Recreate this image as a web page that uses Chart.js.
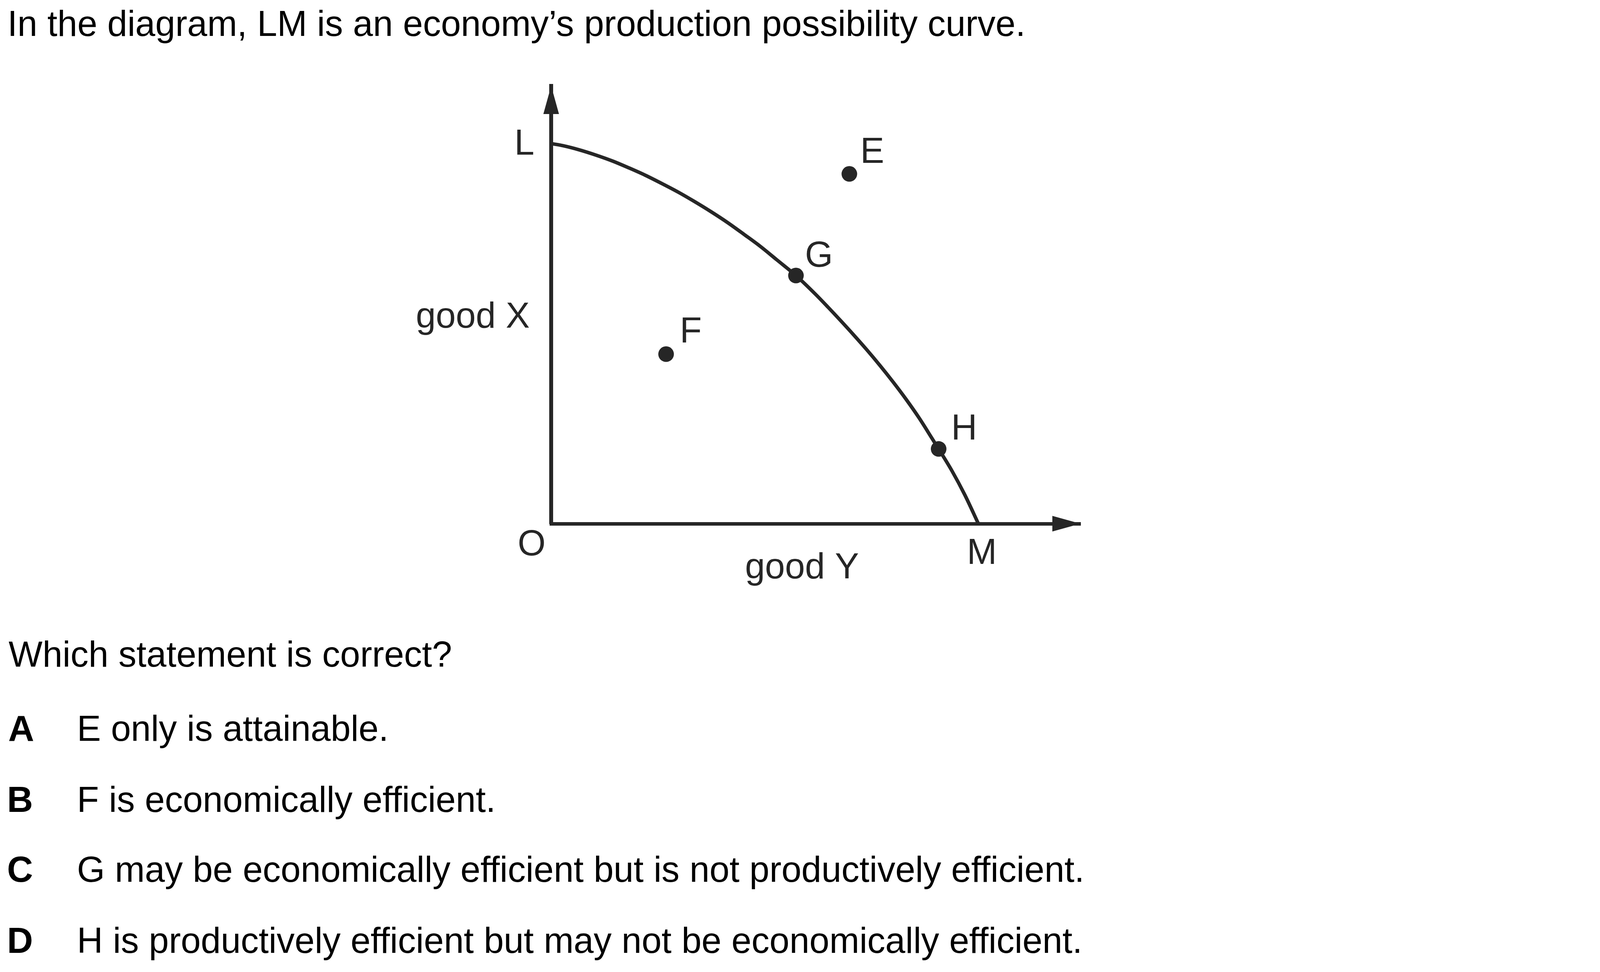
<!DOCTYPE html>
<html>
<head>
<meta charset="utf-8">
<script src="https://cdn.jsdelivr.net/npm/chart.js@4.4.1/dist/chart.umd.min.js"></script>
<style>
    html, body { margin: 0; padding: 0; background: #fff; }
    body { width: 4201px; height: 2489px; position: relative; overflow: hidden; font-family: "Liberation Sans", Arial, sans-serif; color: #000; }
    #canvas-ppc { position: absolute; left: 0; top: 0; }
    .texto { position: absolute; font-size: 92px; line-height: 92px; white-space: nowrap; }
    .letra { position: absolute; font-size: 92px; line-height: 92px; font-weight: bold; }
</style>
</head>
<body>
<canvas id="canvas-ppc" width="4201" height="2489"></canvas>

<div class="texto" style="left:19px; top:14px;">In the diagram, LM is an economy’s production possibility curve.</div>
<div class="texto" style="left:22px; top:1629px;">Which statement is correct?</div>

<div class="letra" style="left:21px; top:1819px;">A</div>
<div class="texto" style="left:197px; top:1819px;">E only is attainable.</div>
<div class="letra" style="left:18px; top:2001px;">B</div>
<div class="texto" style="left:197px; top:2001px;">F is economically efficient.</div>
<div class="letra" style="left:18px; top:2180px;">C</div>
<div class="texto" style="left:197px; top:2180px;">G may be economically efficient but is not productively efficient.</div>
<div class="letra" style="left:18px; top:2362px;">D</div>
<div class="texto" style="left:197px; top:2362px;">H is productively efficient but may not be economically efficient.</div>

<script>
// curve LM (good Y across, good X up)
var curve_x = [0, 0.28, 0.67, 1.05, 1.44, 1.82, 2.20, 2.60, 2.98, 3.36, 3.75, 4.13, 4.52, 4.90, 5.28, 5.73,
               6.18, 6.48, 6.78, 7.09, 7.39, 7.70, 8.01, 8.31, 8.61, 8.92, 9.07, 9.38, 9.68, 10.0];
var curve_y = [8.90, 8.85, 8.75, 8.63, 8.49, 8.33, 8.16, 7.96, 7.76, 7.54, 7.30, 7.05, 6.77, 6.49, 6.18, 5.81,
               5.38, 5.07, 4.75, 4.41, 4.07, 3.70, 3.31, 2.91, 2.48, 1.99, 1.75, 1.24, 0.68, 0];

// the four marked points
var point_names = ["E", "F", "G", "H"];
var point_x = [6.98, 2.69, 5.73, 9.07];
var point_y = [8.19, 3.97, 5.81, 1.75];

// axis ends (arrow tips)
var axis_max_x = 12.39;
var axis_max_y = 10.25;

var ink = "#262626";
var label_font = "92px 'Liberation Sans', Arial, sans-serif";

// label anchors in data units, nudged in pixels
var labels = [
    { text: "L",      x: 0,    y: 8.90, dx: -43, dy: 28,  align: "right" },
    { text: "O",      x: 0,    y: 0,    dx: -50, dy: 81,  align: "center" },
    { text: "M",      x: 10.0, y: 0,    dx: 9,   dy: 103, align: "center" },
    { text: "good X", x: 0,    y: 4.52, dx: -55, dy: -8,  align: "right" },
    { text: "good Y", x: 5.87, y: 0,    dx: 0,   dy: 140, align: "center" }
];
var point_offsets = { E: [28, -28], F: [35, -30], G: [23, -23], H: [32, -24] };

function make_xy(xs, ys) {
    var out = [];
    for (var i = 0; i < xs.length; i++) {
        out.push({ x: xs[i], y: ys[i] });
    }
    return out;
}

var ppc_extras = {
    id: "ppc_extras",
    afterDatasetsDraw: function(chart) {
        var ctx = chart.ctx;
        var sx = chart.scales.x;
        var sy = chart.scales.y;
        var x0 = sx.getPixelForValue(0);
        var y0 = sy.getPixelForValue(0);
        var x_tip = sx.getPixelForValue(axis_max_x);
        var y_tip = sy.getPixelForValue(axis_max_y);

        ctx.save();
        ctx.fillStyle = ink;

        // arrow heads
        ctx.beginPath();
        ctx.moveTo(x0, y_tip);
        ctx.lineTo(x0 - 20, y_tip + 72);
        ctx.lineTo(x0 + 20, y_tip + 72);
        ctx.closePath();
        ctx.fill();

        ctx.beginPath();
        ctx.moveTo(x_tip, y0);
        ctx.lineTo(x_tip - 72, y0 - 20);
        ctx.lineTo(x_tip - 72, y0 + 20);
        ctx.closePath();
        ctx.fill();

        // text
        ctx.font = label_font;
        ctx.textBaseline = "alphabetic";
        labels.forEach(function(r) {
            ctx.textAlign = r.align;
            ctx.fillText(r.text, sx.getPixelForValue(r.x) + r.dx, sy.getPixelForValue(r.y) + r.dy);
        });
        ctx.textAlign = "left";
        for (var i = 0; i < point_names.length; i++) {
            var off = point_offsets[point_names[i]];
            ctx.fillText(point_names[i], sx.getPixelForValue(point_x[i]) + off[0], sy.getPixelForValue(point_y[i]) + off[1]);
        }
        ctx.restore();
    }
};

var canvas = document.getElementById("canvas-ppc");

var chart = new Chart(canvas, {
    type: "scatter",
    data: {
        datasets: [
            {
                label: "LM",
                data: make_xy(curve_x, curve_y),
                showLine: true,
                borderColor: ink,
                borderWidth: 9,
                pointRadius: 0,
                cubicInterpolationMode: "monotone",
                fill: false,
                clip: false
            },
            {
                label: "points",
                data: make_xy(point_x, point_y),
                backgroundColor: ink,
                borderWidth: 0,
                pointRadius: 20,
                clip: false
            }
        ]
    },
    options: {
        responsive: false,
        devicePixelRatio: 1,
        animation: false,
        events: [],
        layout: { padding: { left: 1411, right: 1435, top: 220, bottom: 1148 } },
        plugins: { legend: { display: false }, tooltip: { enabled: false } },
        scales: {
            x: {
                type: "linear",
                min: 0,
                max: axis_max_x,
                grid: { display: false, drawTicks: false },
                ticks: { display: false },
                border: { display: true, color: ink, width: 9 },
                afterFit: function(s) { s.height = 0; }
            },
            y: {
                type: "linear",
                min: 0,
                max: axis_max_y,
                grid: { display: false, drawTicks: false },
                ticks: { display: false },
                border: { display: true, color: ink, width: 10 },
                afterFit: function(s) { s.width = 0; }
            }
        }
    },
    plugins: [ppc_extras]
});
</script>
</body>
</html>
